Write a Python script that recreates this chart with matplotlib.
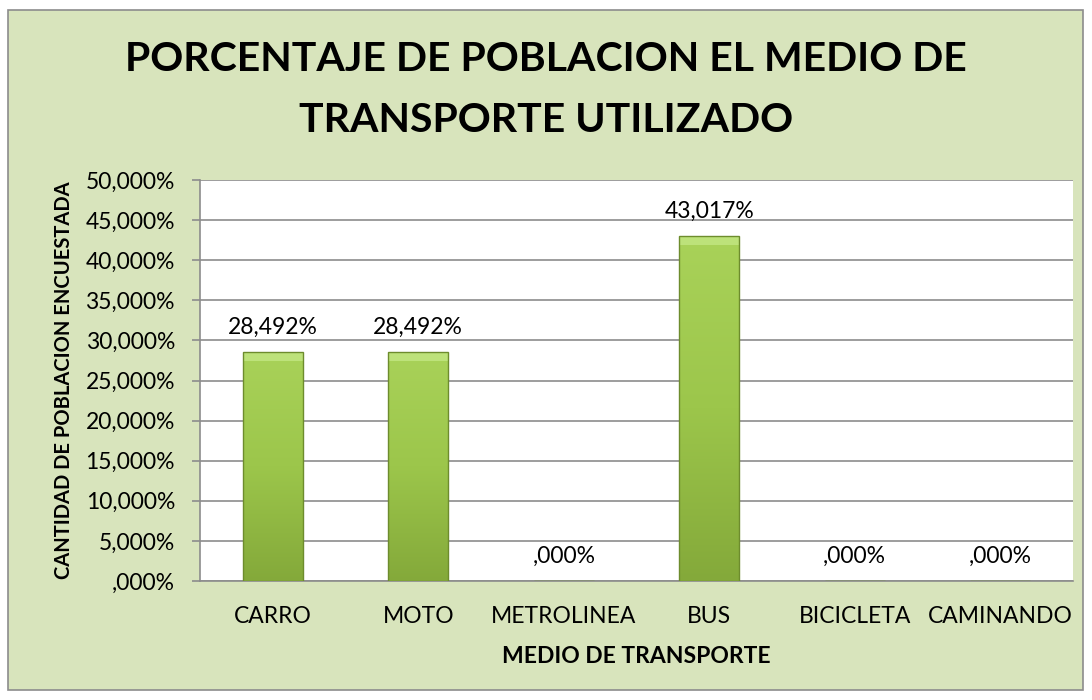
import matplotlib
matplotlib.use('Agg')
import numpy as np
import matplotlib.pyplot as plt
from matplotlib.patches import Rectangle
from matplotlib.colors import LinearSegmentedColormap
from matplotlib.ticker import FuncFormatter

# data
categorias = ['CARRO', 'MOTO', 'METROLINEA', 'BUS', 'BICICLETA', 'CAMINANDO']
porcentajes = [28.492, 28.492, 0.0, 43.017, 0.0, 0.0]
ticks_y = [0, 5, 10, 15, 20, 25, 30, 35, 40, 45, 50]

plt.rcParams['font.family'] = ['Lato', 'DejaVu Sans']


def fmt_pct(v):
    s = '{:.3f}'.format(v).replace('.', ',')
    if s.startswith('0,'):
        s = s[1:]
    return s + '%'


fig = plt.figure(figsize=(10.92, 7), dpi=100)
fig.patch.set_facecolor('white')

# outer chart area with border
fig.patches.append(Rectangle((8 / 1092, 10 / 700), 1075 / 1092, 680 / 700,
                             transform=fig.transFigure, facecolor='#d8e4bc',
                             edgecolor='#8c8c8c', linewidth=1.2, zorder=-5))

ax = fig.add_axes([200 / 1092, 1 - 581 / 700, 873 / 1092, 401 / 700])
ax.set_facecolor('white')

x = range(len(categorias))
bars = ax.bar(x, porcentajes, width=0.41, color='#9cc64b', edgecolor='#6d8c2d',
              linewidth=1.0, zorder=3)

# vertical gradient on the bars + light bevel at the top
cmap = LinearSegmentedColormap.from_list('verde', ['#84a93a', '#9cc64b', '#a9d259'])
grad = np.linspace(0, 1, 256).reshape(-1, 1)
for b in bars:
    if b.get_height() <= 0:
        continue
    x0 = b.get_x()
    w = b.get_width()
    h = b.get_height()
    im = ax.imshow(grad, cmap=cmap, aspect='auto', origin='lower', zorder=3.5,
                   extent=(x0, x0 + w, 0, h))
    im.set_clip_path(b)
    ax.add_patch(Rectangle((x0, h - 1.1), w, 1.1, facecolor='#bde27a',
                           edgecolor='none', zorder=3.6))
    b.set_facecolor('none')
    b.set_zorder(4)

for b, v in zip(bars, porcentajes):
    ax.text(b.get_x() + b.get_width() / 2, v + 1.8, fmt_pct(v), ha='center',
            va='bottom', fontsize=16.5, color='black', zorder=5)

ax.set_xlim(-0.5, len(categorias) - 0.5)
ax.set_ylim(0, 50)
ax.set_yticks(ticks_y)
ax.yaxis.set_major_formatter(FuncFormatter(lambda v, p: fmt_pct(v)))
ax.set_xticks(list(x))
ax.set_xticklabels(categorias)
ax.tick_params(axis='y', labelsize=16.5, length=6, width=1.2, color='#8c8c8c', pad=12)
ax.tick_params(axis='x', labelsize=16.5, length=0, pad=18)
ax.grid(axis='y', color='#8c8c8c', linewidth=1.2, zorder=0)

for s in ['top', 'right']:
    ax.spines[s].set_visible(False)
ax.spines['left'].set_color('#8c8c8c')
ax.spines['bottom'].set_color('#8c8c8c')
ax.spines['left'].set_linewidth(1.2)
ax.spines['bottom'].set_linewidth(1.2)

ax.set_xlabel('MEDIO DE TRANSPORTE', fontsize=16.5, fontweight='bold', labelpad=14)
ax.set_ylabel('CANTIDAD DE POBLACION ENCUESTADA', fontsize=14.5,
              fontweight='bold', labelpad=8)

fig.text(0.5, 1 - 90 / 700, 'PORCENTAJE DE POBLACION EL MEDIO DE\nTRANSPORTE UTILIZADO',
         ha='center', va='center', fontsize=29.5, fontweight='bold',
         linespacing=1.82)

fig.savefig('out.png', dpi=100, facecolor=fig.get_facecolor())
